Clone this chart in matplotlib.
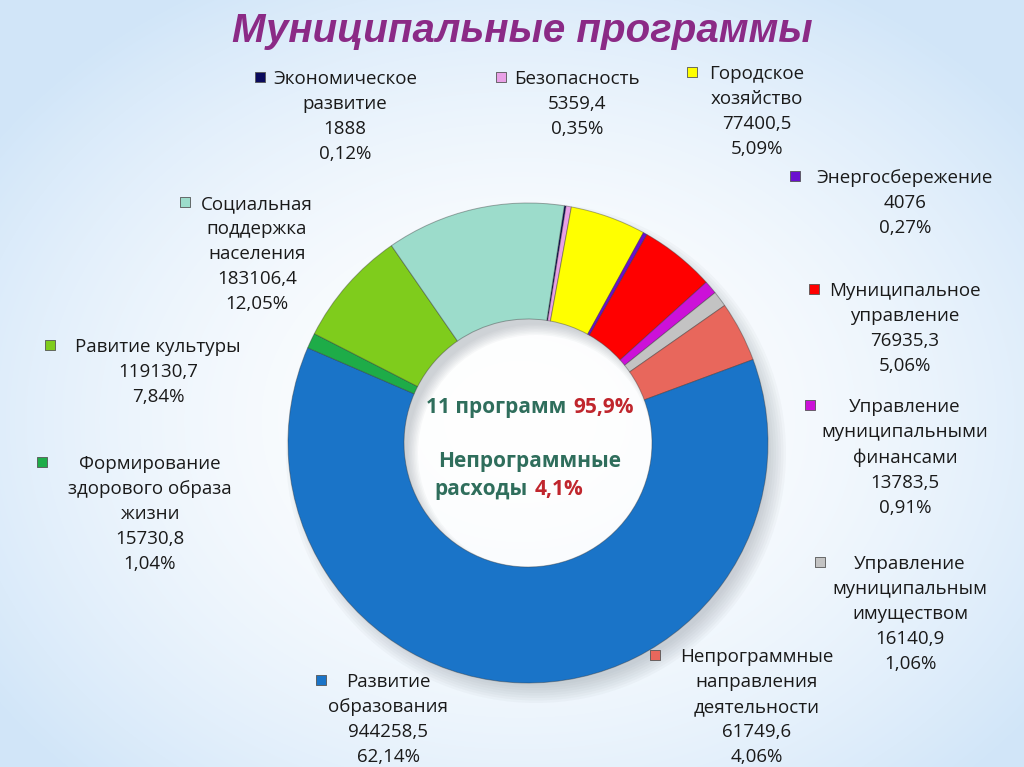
import numpy as np
import matplotlib
matplotlib.use("Agg")
import matplotlib.pyplot as plt
from matplotlib.patches import Wedge

plt.rcParams['font.family'] = ['Open Sans', 'DejaVu Sans']

# Данные (по часовой стрелке, начиная сверху)
names = [
    "Экономическое\nразвитие",
    "Безопасность",
    "Городское\nхозяйство",
    "Энергосбережение",
    "Муниципальное\nуправление",
    "Управление\nмуниципальными\nфинансами",
    "Управление\nмуниципальным\nимуществом",
    "Непрограммные\nнаправления\nдеятельности",
    "Развитие\nобразования",
    "Формирование\nздорового образа\nжизни",
    "Равитие культуры",
    "Социальная\nподдержка\nнаселения",
]
amounts = [1888, 5359.4, 77400.5, 4076, 76935.3, 13783.5, 16140.9,
           61749.6, 944258.5, 15730.8, 119130.7, 183106.4]
percents = [0.12, 0.35, 5.09, 0.27, 5.06, 0.91, 1.06, 4.06, 62.14, 1.04, 7.84, 12.05]
colors = ['#0a0a5c', '#e9a0e6', '#ffff00', '#6a0fd0', '#ff0000', '#cc11d8',
          '#c3c3c3', '#e8675c', '#1a74c8', '#1eac48', '#7fcc1c', '#9cdccb']

# положение подписей (центр первой строки, пиксели) и маркера
label_pos = [(345, 78), (577, 78), (757, 73), (905, 177), (905, 290), (905, 406),
             (910, 563), (757, 656), (388, 681), (150, 463), (158, 346), (257, 203)]
marker_pos = [(260, 77), (501, 77), (692, 72), (795, 176), (814, 289), (810, 405),
              (820, 562), (655, 655), (321, 680), (42, 462), (50, 345), (185, 202)]

W, H = 1024, 767
fig = plt.figure(figsize=(W / 100, H / 100), dpi=100)
ax = fig.add_axes([0, 0, 1, 1])

# фон слайда
yy, xx = np.mgrid[0:H, 0:W]
d = np.sqrt(((xx - 520) / 640.0) ** 2 + ((yy - 420) / 500.0) ** 2)
t = np.clip(d, 0, 1) ** 1.8
white = np.array([1.0, 1.0, 1.0])
blue = np.array([0.82, 0.90, 0.975])
bg = white * (1 - t[..., None]) + blue * t[..., None]
ax.imshow(bg, extent=[0, W, 0, H], origin='upper', zorder=0)

cx, cy = 528, H - 443
R = 240
ring = 116

# тень
for k in range(8):
    ax.add_patch(Wedge((cx + 8, cy - 10), R + 10 - k * 2.5, 0, 360, width=ring + 16 - k * 4,
                       facecolor='#808890', alpha=0.05, edgecolor='none', zorder=1))

wedges, _ = ax.pie(amounts, colors=colors, startangle=81.3, counterclock=False,
                   center=(cx, cy), radius=R, frame=True,
                   wedgeprops=dict(width=ring, edgecolor=(0.2, 0.2, 0.2, 0.4), linewidth=0.7))
for w in wedges:
    w.set_zorder(2)
ax.set_xlim(0, W)
ax.set_ylim(0, H)
ax.set_aspect('auto')
ax.axis('off')


def fmt_amount(v):
    if float(v).is_integer():
        return str(int(v))
    return f"{v:.1f}".replace('.', ',')


for i, name in enumerate(names):
    txt = f"{name}\n{fmt_amount(amounts[i])}\n{percents[i]:.2f}%".replace('.', ',')
    lx, ly = label_pos[i]
    ax.text(lx, H - ly + 8, txt, ha='center', va='top', fontsize=13.5, color='#1a1a1a',
            linespacing=1.5, zorder=5)
    mx, my = marker_pos[i]
    ax.scatter([mx], [H - my], marker='s', s=42, color=colors[i],
               edgecolors='#555555', linewidths=0.6, zorder=5)

# заголовок
ax.text(522, H - 31, "Муниципальные программы", ha='center', va='center',
        fontsize=29, fontweight='bold', fontstyle='italic', color='#8b2a86',
        family='Liberation Sans', zorder=5)

# центр кольца
green_c = '#2f6e5c'
red_c = '#c0262d'
ax.text(566, H - 408, "11 программ", ha='right', va='center', fontsize=15,
        fontweight='bold', color=green_c, zorder=5)
ax.text(573, H - 408, "95,9%", ha='left', va='center', fontsize=15,
        fontweight='bold', color=red_c, zorder=5)
ax.text(530, H - 462, "Непрограммные", ha='center', va='center', fontsize=15,
        fontweight='bold', color=green_c, zorder=5)
ax.text(528, H - 490, "расходы", ha='right', va='center', fontsize=15,
        fontweight='bold', color=green_c, zorder=5)
ax.text(535, H - 490, "4,1%", ha='left', va='center', fontsize=15,
        fontweight='bold', color=red_c, zorder=5)

fig.savefig("out.png", dpi=100)
